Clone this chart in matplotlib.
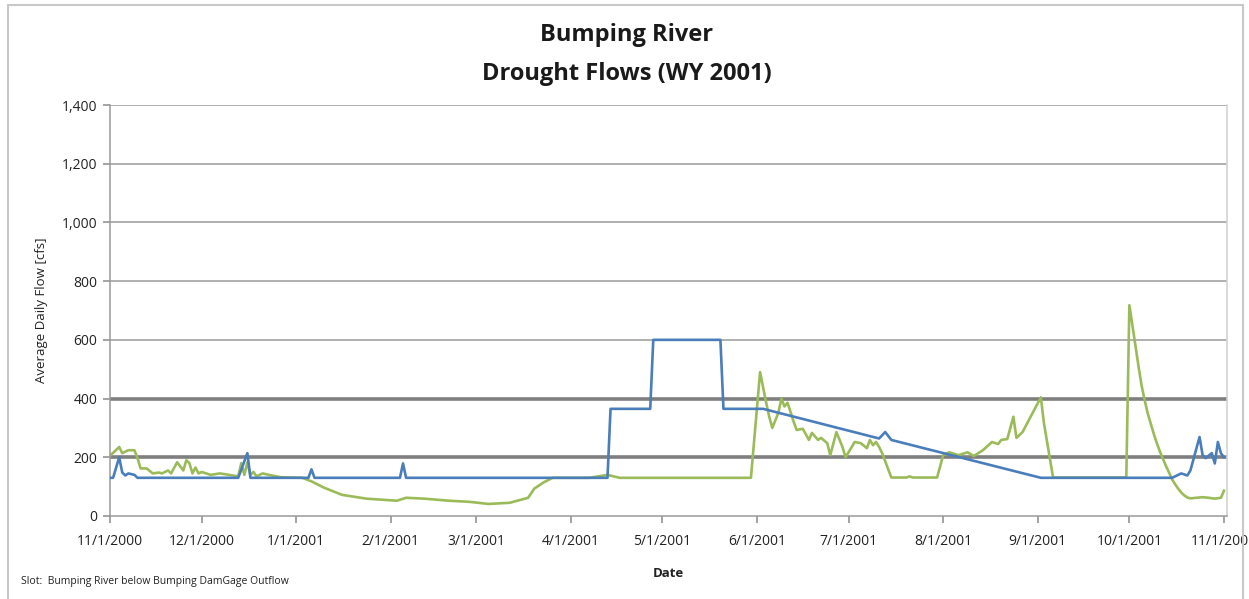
import numpy as np
import pandas as pd
import matplotlib
matplotlib.use('Agg')
import matplotlib.pyplot as plt
from matplotlib.patches import Rectangle
from matplotlib.ticker import FuncFormatter

# day offsets from 11/1/2000 and flows (cfs)
start = pd.Timestamp('2000-11-01')

blue_days = [0, 1, 3, 4, 5, 6, 8, 9, 42, 45, 46, 65, 66, 67, 95, 96, 97,
             163, 164, 177, 178, 200, 201, 214, 252, 254, 256, 305,
             348, 351, 353, 354, 357, 358, 359, 361, 362, 363, 364, 365]
blue_flow = [130, 130, 200, 148, 138, 145, 140, 130, 130, 214, 130, 130, 159, 130, 130, 179, 130,
             130, 365, 365, 600, 600, 365, 365, 264, 286, 259, 130,
             130, 145, 138, 155, 269, 207, 197, 214, 179, 252, 214, 200]

green_days = [0, 3, 4, 6, 8, 9, 10, 12, 14, 16, 17, 19, 20, 22, 24, 25, 26, 27, 28, 29, 30,
              33, 36, 39, 42, 43, 44, 45, 46, 47, 48, 50, 52, 56, 63, 66, 70, 76, 84, 94, 97,
              103, 111, 118, 124, 131, 137, 139, 142, 145, 157, 163, 167, 210, 213, 215,
              216, 217, 219, 220, 221, 222, 224, 225, 227, 229, 230, 232, 233, 235, 236,
              238, 240, 241, 244, 246, 248, 249, 250, 251, 252, 253, 256, 261, 262, 263,
              271, 273, 275, 278, 281, 283, 286, 289, 291, 292, 294, 296, 297, 299, 305,
              306, 309, 333, 334, 335, 336, 337, 338, 339, 340, 341, 342, 343, 344, 345,
              346, 347, 348, 349, 350, 351, 352, 353, 354, 356, 358, 360, 362, 364, 365]
green_flow = [205, 235, 214, 224, 224, 197, 162, 162, 145, 148, 145, 155, 145, 183, 155, 190, 180, 145, 165, 145, 150,
              140, 145, 140, 135, 180, 140, 183, 140, 150, 135, 145, 140, 132, 130, 118, 97, 72, 59, 52, 62,
              59, 52, 48, 41, 45, 62, 93, 114, 130, 130, 140, 130, 130, 490, 386,
              338, 300, 352, 400, 373, 386, 321, 293, 297, 259, 283, 259, 266, 248, 207,
              286, 235, 200, 252, 248, 231, 259, 241, 252, 235, 214, 131, 131, 135, 131,
              131, 207, 217, 207, 217, 204, 224, 252, 245, 259, 262, 338, 266, 286, 404,
              317, 131, 131, 718, 650, 580, 510, 445, 395, 350, 315, 280, 248, 220, 195,
              170, 148, 125, 108, 93, 80, 70, 63, 60, 62, 64, 62, 59, 62, 86]

tick_dates = ['2000-11-01', '2000-12-01', '2001-01-01', '2001-02-01', '2001-03-01', '2001-04-01',
              '2001-05-01', '2001-06-01', '2001-07-01', '2001-08-01', '2001-09-01', '2001-10-01',
              '2001-11-01']
tick_labels = ['11/1/2000', '12/1/2000', '1/1/2001', '2/1/2001', '3/1/2001', '4/1/2001',
               '5/1/2001', '6/1/2001', '7/1/2001', '8/1/2001', '9/1/2001', '10/1/2001',
               '11/1/2001']
y_ticks = [0, 200, 400, 600, 800, 1000, 1200, 1400]

blue_x = start + pd.to_timedelta(blue_days, unit='D')
green_x = start + pd.to_timedelta(green_days, unit='D')

plt.rcParams['font.family'] = ['Open Sans', 'DejaVu Sans']

fig = plt.figure(figsize=(12.49, 5.99), dpi=100)
ax = fig.add_axes([0.0881, 0.1386, 0.8943, 0.6861])

fig.patches.append(Rectangle((0.0065, -0.01), 0.989, 1.002, transform=fig.transFigure,
                             fill=False, edgecolor='#c8c8c8', linewidth=1.5))

for v in y_ticks:
    if v in (200, 400):
        ax.axhline(v, color='#7f7f7f', linewidth=2.6, zorder=1)
    elif v > 0:
        ax.axhline(v, color='#9a9a9a', linewidth=1.1, zorder=1)

ax.plot(blue_x, blue_flow, color='#4a7ebb', linewidth=1.9, zorder=3)
ax.plot(green_x, green_flow, color='#9bbb59', linewidth=1.9, zorder=2)

ax.set_xlim(pd.Timestamp('2000-11-01'), pd.Timestamp('2001-11-02'))
ax.set_ylim(0, 1400)
ax.set_yticks(y_ticks)
ax.yaxis.set_major_formatter(FuncFormatter(lambda v, p: f'{int(v):,}'))
ax.set_xticks(pd.to_datetime(tick_dates))
ax.set_xticklabels(tick_labels)

ax.spines['top'].set_visible(False)
for s in ['left', 'bottom', 'right']:
    ax.spines[s].set_color('#9a9a9a')
    ax.spines[s].set_linewidth(1.1)
ax.spines['right'].set_color('#d0d0d0')

ax.tick_params(axis='both', colors='#8a8a8a', length=5, width=1.1, labelcolor='#222222', labelsize=10)
ax.tick_params(axis='x', pad=8)
ax.tick_params(axis='y', pad=4)

ax.set_ylabel('Average Daily Flow [cfs]', fontsize=9.5, color='#222222', labelpad=10)
ax.set_xlabel('Date', fontsize=9.5, fontweight='bold', color='#222222', labelpad=13)

fig.text(0.502, 0.941, 'Bumping River', ha='center', va='center', fontsize=17,
         fontweight='bold', color='#1a1a1a')
fig.text(0.502, 0.877, 'Drought Flows (WY 2001)', ha='center', va='center', fontsize=17,
         fontweight='bold', color='#1a1a1a')
fig.text(0.017, 0.03, 'Slot:  Bumping River below Bumping DamGage Outflow', ha='left',
         va='center', fontsize=7.5, color='#222222')

fig.savefig('out.png', dpi=100)
